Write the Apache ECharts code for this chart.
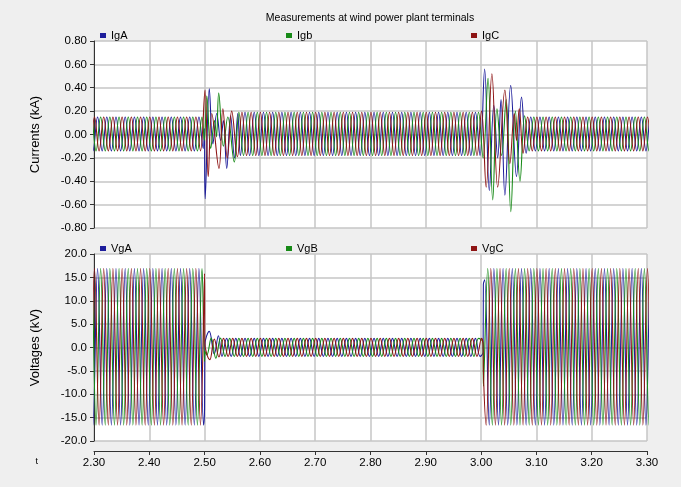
<!DOCTYPE html>
<html>
<head>
<meta charset="utf-8">
<script src="https://cdn.jsdelivr.net/npm/echarts@6/dist/echarts.min.js"></script>
<style>
  html, body { margin: 0; padding: 0; background: #efefef; }
  #chart { width: 681px; height: 487px; }
</style>
</head>
<body>
<div id="chart"></div>
<script>
// time axis
const tMin = 2.30, tMax = 3.30;
const freqHz = 60;
const refPeakA = 2.3231;          // a positive peak of phase A
const phaseLagDeg = [0, 120, 240]; // A, B, C
const segmentEnds = [2.500, 3.0036]; // fault start, fault clear

// steady peak / trough values per segment (pre-fault, fault, post-fault)
const iPeak = [0.15, 0.19, 0.15];
const iTrough = [-0.14, -0.18, -0.14];
const vPeak = [16.9, 1.95, 16.9];
const vTrough = [-16.6, -1.9, -16.6];

// transient extremes [t, value]
const igaT1 = [[2.4975, -0.12], [2.4995, 0.05], [2.5010, -0.55], [2.5085, 0.39], [2.5150, -0.08], [2.5220, 0.18], [2.5290, -0.05], [2.5340, 0.12], [2.5400, -0.29], [2.5470, 0.16], [2.5540, -0.20], [2.5600, 0.18]];
const igbT1 = [[2.4995, -0.05], [2.5040, 0.33], [2.5110, -0.12], [2.5180, 0.12], [2.5215, -0.02], [2.5255, 0.355], [2.5340, -0.10], [2.5420, 0.15], [2.5537, -0.235]];
const igcT1 = [[2.5008, 0.38], [2.5065, -0.36], [2.5130, 0.18], [2.5260, -0.29], [2.5330, 0.22], [2.5410, -0.20], [2.5490, 0.20], [2.5593, -0.19]];
const igaT2 = [[3.0064, 0.56], [3.0148, -0.48], [3.0230, 0.25], [3.0300, -0.20], [3.0360, 0.30], [3.0430, -0.52], [3.0535, 0.42], [3.0640, -0.36], [3.0731, 0.32], [3.0815, -0.16]];
const igbT2 = [[3.0036, -0.20], [3.0125, 0.48], [3.0210, -0.56], [3.0287, 0.22], [3.0370, -0.18], [3.0453, 0.30], [3.0537, -0.66], [3.0620, 0.20], [3.0703, -0.40], [3.0787, 0.16]];
const igcT2 = [[3.0008, 0.20], [3.0092, -0.45], [3.0195, 0.52], [3.0300, -0.45], [3.0430, 0.38], [3.0520, -0.25], [3.0600, 0.18], [3.0640, -0.05], [3.0690, 0.22], [3.0759, -0.16]];

const vgaT1 = [[2.4999, -13.0], [2.5004, 0.5], [2.5085, 3.45], [2.5175, -1.4], [2.5250, 2.5]];
const vgbT1 = [[2.4999, -3.0], [2.5004, -0.8], [2.5040, -1.6], [2.5120, 2.0], [2.5203, -2.3], [2.5287, 2.0]];
const vgcT1 = [[2.4999, 15.8], [2.5004, 1.0], [2.5095, -2.6], [2.5175, 1.8], [2.5259, -2.0]];
const vgaT2 = [[3.0036, -1.0], [3.0041, 13.5], [3.0065, 14.5]];
const vgbT2 = [[3.0036, 1.0], [3.0042, -8.3]];
const vgcT2 = [[3.0036, 0.5], [3.0042, -5.3]];

const seriesNames = ['IgA', 'Igb', 'IgC', 'VgA', 'VgB', 'VgC'];
const lineColors = ['#1d1d9b', '#178a17', '#8e1414'];

function buildWave(lagDeg, peaks, troughs, transients) {
    let half = 1 / freqHz / 2;
    let t0 = refPeakA + lagDeg / 360 / freqHz;
    let kStart = Math.floor((tMin - 0.02 - t0) / half);
    let kEnd = Math.ceil((tMax + 0.02 - t0) / half);
    let pts = [];
    for (let k = kStart; k <= kEnd; k++) {
        let t = t0 + k * half;
        let inside = transients.some(function (tr) {
            return t >= tr[0][0] && t <= tr[tr.length - 1][0];
        });
        if (inside) continue;
        let seg = t < segmentEnds[0] ? 0 : (t < segmentEnds[1] ? 1 : 2);
        let even = ((k % 2) + 2) % 2 === 0;
        pts.push([t, even ? peaks[seg] : troughs[seg]]);
    }
    transients.forEach(function (tr) {
        tr.forEach(function (p) { pts.push(p); });
    });
    pts.sort(function (a, b) { return a[0] - b[0]; });
    return pts;
}

const waves = [
    buildWave(phaseLagDeg[0], iPeak, iTrough, [igaT1, igaT2]),
    buildWave(phaseLagDeg[1], iPeak, iTrough, [igbT1, igbT2]),
    buildWave(phaseLagDeg[2], iPeak, iTrough, [igcT1, igcT2]),
    buildWave(phaseLagDeg[0], vPeak, vTrough, [vgaT1, vgaT2]),
    buildWave(phaseLagDeg[1], vPeak, vTrough, [vgbT1, vgbT2]),
    buildWave(phaseLagDeg[2], vPeak, vTrough, [vgcT1, vgcT2])
];

const font = 'Liberation Sans Narrow, Liberation Sans, Arial, sans-serif';
const gridColor = '#c6c6c6';

function xAxisOf(idx, showLabels) {
    return {
        type: 'value', gridIndex: idx, min: tMin, max: tMax, interval: 0.1,
        offset: showLabels ? 10 : 0,
        name: showLabels ? 't' : '',
        nameLocation: 'start', nameGap: 56,
        nameTextStyle: { fontFamily: font, fontSize: 9, color: '#000', verticalAlign: 'top', padding: [6, 0, 0, 0] },
        axisLine: { show: showLabels, onZero: false, lineStyle: { color: '#333', width: 1 } },
        axisTick: { show: showLabels, length: 4, lineStyle: { color: '#333' } },
        axisLabel: {
            show: showLabels, fontFamily: font, fontSize: 11.5, color: '#000', margin: 6,
            formatter: function (v) { return v.toFixed(2); }
        },
        splitLine: { show: true, lineStyle: { color: gridColor, width: 1.5 } }
    };
}

function yAxisOf(idx, min, max, step, digits, name) {
    return {
        type: 'value', gridIndex: idx, min: min, max: max, interval: step,
        name: name, nameLocation: 'middle', nameGap: 52, nameRotate: 90,
        nameTextStyle: { fontFamily: font, fontSize: 13, color: '#000' },
        axisLine: { show: true, onZero: false, lineStyle: { color: '#333', width: 1 } },
        axisTick: { show: true, length: 4, lineStyle: { color: '#333' } },
        axisLabel: {
            fontFamily: font, fontSize: 11.5, color: '#000', margin: 7,
            formatter: function (v) { return v.toFixed(digits); }
        },
        splitLine: { show: true, lineStyle: { color: gridColor, width: 1.5 } }
    };
}

const legendLefts = [95, 281, 466];
const legendTops = [25, 238];
let legends = [];
seriesNames.forEach(function (n, i) {
    legends.push({
        data: [n],
        left: legendLefts[i % 3],
        top: legendTops[Math.floor(i / 3)],
        icon: 'rect', itemWidth: 6, itemHeight: 5,
        textStyle: { fontFamily: font, fontSize: 11, color: '#000' },
        selectedMode: false
    });
});

let series = waves.map(function (data, i) {
    return {
        name: seriesNames[i],
        type: 'line',
        xAxisIndex: i < 3 ? 0 : 1,
        yAxisIndex: i < 3 ? 0 : 1,
        data: data,
        showSymbol: false,
        symbol: 'none',
        smooth: 0.4,
        clip: true,
        color: lineColors[i % 3],
        lineStyle: { width: 1.1, color: lineColors[i % 3] }
    };
});

let chart = echarts.init(document.getElementById('chart'));
chart.setOption({
    animation: false,
    backgroundColor: '#efefef',
    title: {
        text: 'Measurements at wind power plant terminals',
        left: 365, top: 8, textAlign: 'center',
        textStyle: { fontFamily: font, fontSize: 10.5, fontWeight: 'normal', color: '#000' }
    },
    legend: legends,
    grid: [
        { left: 94, top: 41, width: 553, height: 187, show: true, backgroundColor: '#fff', borderWidth: 0 },
        { left: 94, top: 254, width: 553, height: 187, show: true, backgroundColor: '#fff', borderWidth: 0 }
    ],
    xAxis: [xAxisOf(0, false), xAxisOf(1, true)],
    yAxis: [
        yAxisOf(0, -0.8, 0.8, 0.2, 2, 'Currents (kA)'),
        yAxisOf(1, -20, 20, 5, 1, 'Voltages (kV)')
    ],
    series: series
});
</script>
</body>
</html>
